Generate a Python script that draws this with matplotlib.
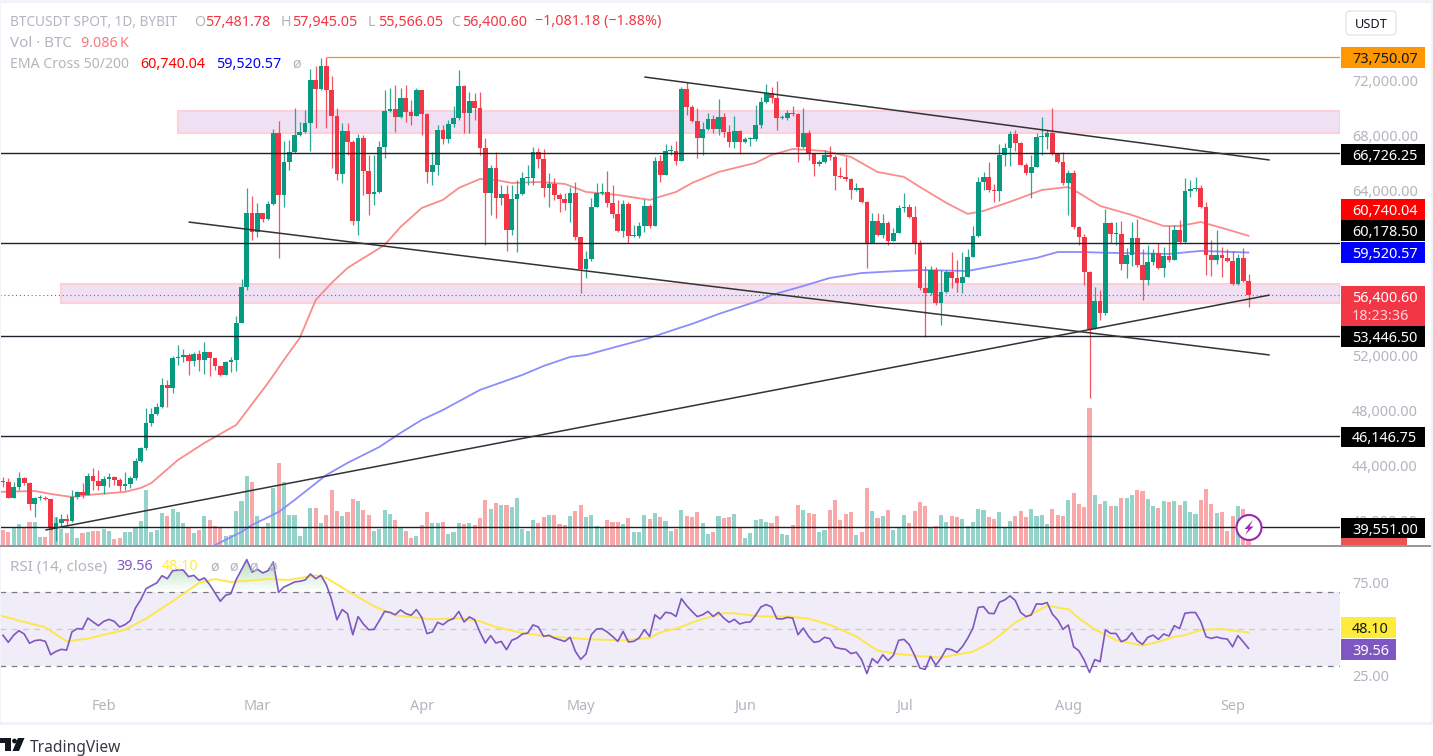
import numpy as np
import matplotlib
matplotlib.use("Agg")
import matplotlib.pyplot as plt
from matplotlib.patches import Rectangle, Circle, FancyBboxPatch, Polygon
from matplotlib.path import Path
from matplotlib.ticker import FuncFormatter

plt.rcParams['font.family'] = ['Noto Sans', 'DejaVu Sans']

# daily candles, thousands of USDT, first one is 13 Jan 2024
first_open = 42.85
closes = [
    42.83,41.67,42.47,43.12,42.76,41.23,41.67,41.67,41.60,39.49,
    39.85,40.14,40.00,41.74,42.11,41.89,43.27,42.91,42.54,43.05,
    43.20,42.98,42.54,42.69,43.12,44.36,45.31,47.13,47.78,48.29,
    49.89,49.67,51.85,51.93,52.07,51.63,52.15,51.71,52.29,51.85,
    51.27,50.62,51.56,51.71,54.40,57.02,62.40,61.02,62.40,61.96,
    63.05,68.22,63.71,66.11,66.84,68.07,68.29,68.94,72.07,71.42,
    73.09,71.35,69.45,65.24,68.36,67.56,61.82,67.85,65.45,63.78,
    63.93,67.20,69.82,69.96,69.38,70.76,69.74,69.45,71.35,69.60,
    65.38,65.89,68.44,67.78,68.87,69.31,71.64,69.67,70.54,70.04,
    67.13,63.85,65.67,63.49,63.78,61.16,63.42,63.78,64.95,64.95,
    66.84,66.33,64.22,64.51,63.71,63.42,63.13,63.85,60.66,58.33,
    59.05,62.84,63.85,63.93,63.13,62.33,61.09,63.05,60.73,60.73,
    61.45,62.91,61.45,66.18,65.16,66.91,66.91,66.18,71.42,70.11,
    69.09,67.85,68.51,69.24,68.51,69.38,68.29,67.56,68.36,67.56,
    67.78,67.78,68.80,70.47,71.13,70.76,69.31,69.31,69.67,69.60,
    67.20,68.22,66.69,65.96,66.11,66.62,66.47,65.09,65.02,64.87,
    64.07,64.22,63.20,60.22,61.82,60.80,61.67,60.36,60.95,62.76,
    62.84,62.11,60.22,56.95,56.58,58.25,55.85,56.65,58.11,57.67,
    57.31,57.75,59.20,60.73,64.65,65.02,64.07,64.00,66.62,67.13,
    68.15,67.49,65.89,65.31,65.75,67.93,67.93,68.22,66.69,66.11,
    64.58,65.31,61.38,60.66,58.11,53.96,56.00,55.13,61.67,60.88,
    60.88,58.69,59.34,60.58,58.62,57.53,58.84,59.49,58.40,59.27,
    58.98,61.16,60.29,64.00,64.15,64.22,62.84,59.34,58.98,59.34,
    59.13,58.91,57.24,59.13,57.48,56.40,
]
highs = [
    43.20,43.12,42.83,43.56,43.20,42.83,41.74,41.89,41.82,41.60,
    40.29,40.51,40.51,42.25,42.18,42.76,43.49,43.85,43.71,43.27,
    43.49,43.27,43.12,43.56,43.27,44.58,45.38,48.22,48.22,48.58,
    50.40,50.25,52.00,52.80,52.51,52.22,52.29,52.44,53.02,52.29,
    51.85,51.27,51.63,51.93,54.91,57.60,64.22,63.64,63.13,62.40,
    63.27,68.51,69.09,67.64,67.71,70.04,69.02,69.89,72.87,73.09,
    73.67,73.75,72.36,70.04,68.94,68.94,67.71,68.15,68.07,66.62,
    66.62,67.64,71.35,71.49,71.71,71.49,71.71,70.62,71.49,71.35,
    69.67,66.84,68.80,68.80,69.16,70.18,72.80,71.71,71.20,71.13,
    71.20,67.85,65.89,66.84,64.43,64.43,64.43,64.80,65.38,65.89,
    67.20,67.13,67.05,65.31,64.95,63.85,63.85,64.29,64.65,60.66,
    59.63,63.49,64.58,64.58,65.45,64.43,63.35,63.35,63.20,61.53,
    61.74,63.42,63.05,66.47,66.62,67.42,67.35,67.64,71.56,71.93,
    70.25,70.04,69.02,69.67,69.53,70.69,69.67,68.80,69.45,68.44,
    67.93,67.93,70.25,70.84,71.78,71.56,71.99,69.53,69.89,70.18,
    69.67,70.04,68.44,66.76,66.25,66.98,67.27,66.62,65.75,66.47,
    64.95,64.58,64.29,63.27,62.40,62.40,62.33,61.82,61.31,62.98,
    63.85,63.05,62.91,60.44,58.54,58.54,58.47,58.25,58.25,59.56,
    58.98,59.56,59.78,61.45,65.02,65.38,66.11,64.51,67.42,67.49,
    68.36,68.44,67.56,66.04,66.62,68.22,69.38,68.44,70.04,66.76,
    66.84,65.53,65.53,61.45,60.88,58.18,57.02,56.80,62.69,61.74,
    61.74,61.82,59.85,61.74,61.96,59.78,60.07,59.78,60.22,59.93,
    61.45,61.53,61.89,64.95,64.80,65.02,64.43,63.20,60.44,61.16,
    59.93,59.78,59.63,59.42,59.85,57.95,
]
lows = [
    42.47,41.67,41.67,42.25,42.62,40.80,40.29,41.52,41.52,39.34,
    38.54,39.56,39.63,39.93,41.60,41.67,41.89,42.25,42.25,41.96,
    42.47,42.62,42.18,42.25,42.40,42.98,44.29,45.16,46.91,47.71,
    48.22,48.29,49.31,51.34,51.56,50.62,51.27,50.91,50.69,50.54,
    50.98,50.54,50.62,50.84,50.91,54.40,56.80,60.44,60.66,61.74,
    61.89,62.98,59.13,62.84,65.53,66.76,68.00,68.22,66.91,68.58,
    71.35,68.58,65.67,64.80,64.58,66.62,61.53,60.80,63.71,62.25,
    62.98,63.85,66.40,69.74,68.29,69.31,69.02,68.80,69.45,68.07,
    64.58,64.43,65.16,67.42,67.49,68.65,69.16,68.22,68.22,69.16,
    66.62,60.07,62.25,62.04,62.98,59.63,60.80,59.56,63.71,64.43,
    64.43,65.67,63.56,62.84,63.35,62.47,62.62,61.74,60.44,56.58,
    57.67,58.91,62.84,63.71,62.84,62.04,61.02,60.66,60.22,60.66,
    60.58,61.02,61.31,61.45,64.65,65.16,66.62,65.89,66.18,69.53,
    69.02,66.40,66.62,68.44,68.22,68.07,67.93,67.20,67.13,66.69,
    67.49,67.27,67.64,68.58,70.40,70.40,68.44,69.24,69.16,69.45,
    66.11,67.13,66.25,65.09,65.82,66.04,66.25,64.07,64.95,64.73,
    63.42,64.00,63.13,58.40,60.22,60.73,60.58,60.07,60.36,60.95,
    62.47,62.04,59.42,56.80,53.38,56.43,55.71,54.25,56.58,56.95,
    56.65,56.58,57.75,59.20,60.66,64.07,63.93,63.20,63.27,65.82,
    65.82,66.91,65.89,65.16,63.49,65.75,66.62,67.05,66.62,66.04,
    64.43,62.25,61.24,60.07,57.16,48.94,53.96,54.62,55.00,60.22,
    60.07,58.25,57.67,58.54,58.47,56.07,57.16,58.62,58.33,57.75,
    58.84,58.98,60.15,60.22,63.56,64.00,62.76,57.89,57.82,58.69,
    57.75,58.84,57.16,57.16,57.38,55.57,
]
# volume, thousands of BTC
volumes = [
    37.5,32.5,45,52.5,42.5,57.5,57.5,20,20,45,
    70,40,30,45,17.5,30,32.5,35,35,40,
    35,15,17.5,32.5,32.5,42.5,60,137.5,32.5,37.5,
    80,72.5,90,82.5,55,42.5,30,37.5,72.5,62.5,
    47.5,45,22.5,25,85,110,172.5,157.5,72.5,42.5,
    55,142.5,205,157.5,75,75,22.5,45,92.5,92.5,
    55,75,137.5,85,72.5,82.5,115,110,87.5,75,
    35,40,87.5,77.5,62.5,42.5,35,17.5,22.5,50,
    82.5,55,55,57.5,27.5,32.5,55,52.5,55,50,
    67.5,112.5,90,105,100,100,95,117.5,40,35,
    62.5,55,70,75,75,52.5,50,72.5,85,100,
    70,75,47.5,45,62.5,57.5,57.5,52.5,67.5,32.5,
    32.5,75,65,80,70,60,35,40,87.5,72.5,
    70,82.5,55,27.5,32.5,72.5,67.5,70,77.5,42.5,
    17.5,30,62.5,65,57.5,55,72.5,27.5,25,50,
    100,87.5,80,77.5,32.5,37.5,87.5,112.5,62.5,77.5,
    82.5,25,32.5,142.5,85,67.5,72.5,87.5,37.5,42.5,
    75,55,85,107.5,97.5,42.5,47.5,75,57.5,72.5,
    70,65,47.5,57.5,90,87.5,70,65,82.5,42.5,
    60,72.5,85,70,90,72.5,75,52.5,90,75,
    72.5,112.5,130,102.5,95,342.5,125,102.5,110,97.5,
    97.5,117.5,117.5,125,137.5,135,115,97.5,92.5,110,
    107.5,110,100,110,82.5,77.5,112.5,140,102.5,80,
    82.5,35,72.5,97.5,90,9.086,
]
rsi_values = [
    46.6,42.8,46.6,49.1,47.3,42.3,43.7,44.1,43.3,36.1,
    37.9,39.0,38.6,48.4,50.2,50.0,55.9,53.8,51.8,54.1,
    55.2,54.1,51.1,52.3,54.5,61.4,65.9,71.8,73.4,74.9,
    78.8,77.2,81.5,81.9,81.9,78.3,79.0,76.3,77.6,74.0,
    69.5,65.0,68.2,69.1,76.7,82.1,87.5,80.8,82.3,80.3,
    81.5,86.2,69.8,72.7,74.0,75.4,75.8,76.5,79.7,77.2,
    79.0,74.0,65.9,55.0,60.5,58.3,46.9,56.7,52.7,49.6,
    49.8,54.5,59.5,59.0,57.7,60.3,58.3,57.4,60.5,56.3,
    47.5,48.4,53.6,52.3,54.5,55.6,59.5,53.8,56.5,55.0,
    48.2,42.4,46.4,42.4,43.3,38.8,43.9,45.1,47.3,47.8,
    52.2,51.1,46.0,46.6,45.1,44.2,43.3,45.5,37.9,33.6,
    36.5,46.9,50.0,50.2,48.4,46.0,43.3,48.7,43.0,43.3,
    45.1,49.6,46.0,57.7,55.4,59.0,58.6,56.8,66.4,62.6,
    59.5,56.7,57.7,59.5,56.8,59.0,55.9,53.6,55.2,52.7,
    53.6,53.8,57.4,61.9,63.2,61.9,55.6,55.4,56.3,55.9,
    46.9,50.5,46.0,42.8,43.3,45.5,44.8,40.1,39.4,39.0,
    36.7,37.4,33.4,25.9,34.0,31.6,36.1,32.9,35.8,43.9,
    44.4,41.5,35.8,28.9,28.2,35.2,30.4,34.3,39.4,38.8,
    37.3,40.4,44.9,50.4,61.6,62.1,58.5,58.3,64.5,65.7,
    67.9,65.4,59.0,56.7,57.6,63.6,63.4,64.3,58.0,54.9,
    49.8,52.2,40.4,38.2,33.2,26.5,33.5,32.3,49.5,47.6,
    47.6,43.1,44.4,48.0,43.7,41.7,45.5,46.7,44.4,47.3,
    46.2,51.8,50.2,58.5,58.9,58.9,54.0,45.8,44.9,45.7,
    44.9,44.6,40.4,46.4,43.1,39.56,
]

# moving averages read at a handful of days (day number from first candle)
ema50_days = [-1,6,9,13,16,23,26,28,33,38,44,48,50,53,56,59,62,65,72,75,
              79,83,86,90,93,96,101,106,110,116,122,127,130,135,142,145,149,155,160,165,
              170,173,178,182,185,191,196,201,203,207,213,219,222,226,230,235]
ema50 = [42.11,42.18,41.96,41.74,41.89,42.11,42.40,42.76,44.43,45.67,
         46.98,49.02,50.03,51.71,53.31,56.07,57.31,58.40,60.07,61.38,
         62.76,63.35,64.22,64.87,64.80,64.58,64.65,64.51,63.93,63.71,
         63.35,63.93,64.58,65.38,66.04,66.62,67.05,66.91,66.47,65.38,
         65.02,64.29,63.13,62.33,62.55,63.35,64.07,64.29,63.85,62.91,
         62.25,61.45,61.45,61.74,61.31,60.74]
ema200_days = [40,45,47,52,55,61,65,71,75,79,83,90,98,102,107,110,117,122,127,130,
               135,143,145,151,156,162,169,173,182,188,195,199,203,210,220,226,235]
ema200 = [38.25,39.20,39.71,40.65,41.52,43.34,44.22,45.38,46.40,47.35,
          48.07,49.53,50.62,51.27,51.93,52.07,52.80,53.31,53.96,54.33,
          55.05,56.07,56.43,57.09,57.67,58.03,58.18,58.25,58.18,58.62,
          59.13,59.56,59.56,59.49,59.42,59.64,59.52]
rsi_ma_days = [-1,3,8,12,16,23,27,32,37,40,43,50,54,59,61,66,70,74,79,81,86,90,
               93,98,104,111,117,122,124,127,131,136,138,143,148,152,156,161,165,169,
               173,177,183,186,189,191,197,201,203,206,210,215,218,221,223,226,230,235]
rsi_ma = [57.7,54.5,50.9,43.3,44.8,49.6,55.6,65.0,74.9,77.0,75.4,77.0,76.5,79.0,77.6,68.9,62.3,57.4,55.9,55.2,55.9,54.1,
          51.1,47.8,45.7,44.4,43.9,45.1,48.2,50.2,54.5,58.6,58.5,56.8,56.8,55.6,52.3,46.0,38.3,36.5,
          35.3,34.6,37.7,42.2,48.6,53.6,62.5,60.7,55.8,49.8,44.0,41.0,43.1,45.8,46.7,49.5,50.0,48.10]

# hand drawn levels, zones and trend lines
level_prices = [66.72625, 60.1785, 53.4465, 46.14675, 39.551]
ath_price = 73.75007
last_price = 56.4006
zone_top = (33.1, 68.22, 69.82)
zone_bottom = (10.9, 55.85, 57.24)
trend_days = [(35, 239), (8, 239), (121, 239)]
trend_prices = [(61.74, 52.07), (39.34, 56.43), (72.29, 66.25)]

month_days = [19, 48, 79, 109, 140, 170, 201, 232]
month_names = ['Feb', 'Mar', 'Apr', 'May', 'Jun', 'Jul', 'Aug', 'Sep']
price_ticks = [40, 44, 48, 52, 64, 68, 72]
rsi_ticks = [25, 75]

GREEN = '#089981'
RED = '#F23645'
GREY = '#B2B5BE'
LIGHT_GREEN = '#94D3CA'
LIGHT_RED = '#F9A8A9'
PURPLE = '#7E57C2'

W, H = 1433, 756
fig = plt.figure(figsize=(W / 100, H / 100), dpi=100, facecolor='white')


def pane(left, top, right, bottom):
    return fig.add_axes([left / W, (H - bottom) / H, (right - left) / W, (bottom - top) / H])


# day -> pixel is x = 3 + 5.3 * day
xlim = (-3 / 5.3, (1340 - 3) / 5.3)
days = np.arange(len(closes))
closes = np.array(closes)
opens = np.r_[first_open, closes[:-1]]
highs = np.array(highs)
lows = np.array(lows)
up = closes >= opens

ax = pane(0, 3, 1340, 545)
ax.set_xlim(xlim)
ax.set_ylim(38.25, 77.67)
for s in ax.spines.values():
    s.set_visible(False)
ax.set_xticks([])
ax.yaxis.tick_right()
ax.set_yticks(price_ticks)
ax.yaxis.set_major_formatter(FuncFormatter(lambda v, p: f'{v * 1000:,.2f}'))
ax.tick_params(axis='y', length=0, pad=8.6, labelsize=10.4, labelcolor=GREY)

for start, bot, top in (zone_top, zone_bottom):
    ax.add_patch(Rectangle((start, bot), xlim[1] - start, top - bot, facecolor='#EFE0F3',
                           edgecolor='#FDD0D6', linewidth=1.5, zorder=1))

# volume sits on its own scale at the bottom of the price pane
vol = fig.add_axes(ax.get_position(), sharex=ax, zorder=ax.get_zorder() - 1)
vol.set_ylim(0, 542 * 2.5)
vol.axis('off')
ax.patch.set_visible(False)
vol.bar(days, volumes, width=0.78, color=[LIGHT_GREEN if u else LIGHT_RED for u in up], linewidth=0)

ax.plot(ema50_days, ema50, color='#FA8C8C', lw=1.3, zorder=3)
ax.plot(ema200_days, ema200, color='#8C8CFB', lw=1.3, zorder=3)

wick_cols = [GREEN if u else RED for u in up]
ax.vlines(days, lows, highs, colors=wick_cols, lw=0.9, alpha=0.85, zorder=4)
ax.bar(days, np.maximum(np.abs(closes - opens), 0.09), bottom=np.minimum(closes, opens),
       width=0.88, color=wick_cols, linewidth=0, zorder=4)

ax.axhline(last_price, color=RED, lw=0.8, ls=(0, (1, 2.5)), zorder=5)
ax.hlines(level_prices, xlim[0], xlim[1], color='#1E222D', lw=1.0, zorder=6)
ax.hlines(ath_price, 61, xlim[1], color='#F7931E', lw=0.9, zorder=6)
for d, p in zip(trend_days, trend_prices):
    ax.plot(d, p, color='#333333', lw=1.1, zorder=6, solid_capstyle='butt')

# RSI pane
rsi_ax = pane(0, 548, 1340, 722)
rsi_ax.set_xlim(xlim)
rsi_ax.set_ylim(-0.27, 93.78)
for s in rsi_ax.spines.values():
    s.set_visible(False)
rsi_ax.axhspan(30, 70, color='#F0ECF8', lw=0, zorder=1)
rsi_ax.axhline(70, color='#787B86', lw=0.9, ls=(0, (4.5, 4.5)), zorder=2)
rsi_ax.axhline(30, color='#787B86', lw=0.9, ls=(0, (4.5, 4.5)), zorder=2)
rsi_ax.axhline(50, color='#C9CBD2', lw=0.9, ls=(0, (4.5, 4.5)), zorder=2)

rsi_values = np.array(rsi_values)
over = rsi_ax.fill_between(days, 70, rsi_values, where=rsi_values > 70, interpolate=True, color='none')
shade = np.zeros((64, 2, 4))
shade[..., 0] = 76 / 255
shade[..., 1] = 175 / 255
shade[..., 2] = 80 / 255
shade[..., 3] = np.linspace(0.42, 0, 64)[:, None]
im = rsi_ax.imshow(shade, extent=(xlim[0], xlim[1], 70, 88), origin='upper', aspect='auto', zorder=2)
im.set_clip_path(Path.make_compound_path(*over.get_paths()), rsi_ax.transData)
rsi_ax.set_xlim(xlim)
rsi_ax.set_ylim(-0.27, 93.78)

rsi_ax.plot(rsi_ma_days, rsi_ma, color='#FDE74C', lw=1.4, zorder=3)
rsi_ax.plot(days, rsi_values, color=PURPLE, lw=1.2, zorder=4)

rsi_ax.yaxis.tick_right()
rsi_ax.set_yticks(rsi_ticks)
rsi_ax.yaxis.set_major_formatter(FuncFormatter(lambda v, p: f'{v:.2f}'))
rsi_ax.tick_params(axis='y', length=0, pad=8.6, labelsize=10.4, labelcolor=GREY)
rsi_ax.set_xticks(month_days)
rsi_ax.set_xticklabels(month_names, fontweight='medium')
rsi_ax.tick_params(axis='x', length=0, pad=-16.5, labelsize=10.4, labelcolor=GREY)

# everything that is page furniture goes on a pixel overlay
ov = fig.add_axes([0, 0, 1, 1], zorder=10)
ov.set_xlim(0, W)
ov.set_ylim(H, 0)
ov.axis('off')

for r in [(0, 0, W, 2.5), (0, 0, 1.2, 724), (0, 722, W, 2.5), (1431, 0, 2, 724)]:
    ov.add_patch(Rectangle(r[:2], r[2], r[3], color='#F0F3FA', lw=0))
ov.add_patch(Rectangle((0, 544.5), 1431, 2, color='#9598A1', lw=0))

# price scale labels
boxes = [
    (47, 21, 84, '#FF9800', '73,750.07', '#131722'),
    (144, 21, 84, '#000000', '66,726.25', 'white'),
    (199, 21, 84, '#FF0000', '60,740.04', 'white'),
    (220, 21, 84, '#000000', '60,178.50', 'white'),
    (242, 21, 84, '#0000FF', '59,520.57', 'white'),
    (326, 21, 84, '#000000', '53,446.50', 'white'),
    (427, 20, 84, '#000000', '46,146.75', 'white'),
    (518, 20, 84, '#000000', '39,551.00', 'white'),
    (617, 21, 55, '#FFEB3B', '48.10', '#131722'),
    (639, 21, 55, PURPLE, '39.56', 'white'),
]
ov.add_patch(Rectangle((1341, 538), 66, 7, color='#EF5350', lw=0))
for top, hgt, wid, col, txt, tcol in boxes:
    ov.add_patch(Rectangle((1341, top), wid, hgt, color=col, lw=0))
    ov.text(1352, top + hgt / 2, txt, color=tcol, fontsize=10.4, va='center_baseline', ha='left')
ov.add_patch(Rectangle((1341, 286), 84, 40, color=RED, lw=0))
ov.text(1352, 296, '56,400.60', color='white', fontsize=10.4, va='center_baseline')
ov.text(1352, 315, '18:23:36', color='#FBD5D8', fontsize=10.4, va='center_baseline')

ov.add_patch(FancyBboxPatch((1346, 11), 50, 24, boxstyle='round,pad=0,rounding_size=4',
                            facecolor='white', edgecolor='#E0E3EB', lw=0.9))
ov.text(1371, 23, 'USDT', color='#131722', fontsize=9.2, ha='center', va='center_baseline')

# legend rows, x positions as they sit in the header
FS = 10.3
header = [
    (10, 20, 'BTCUSDT SPOT, 1D, BYBIT', GREY, 9.8),
    (194, 20, 'O', GREY, FS), (205, 20, '57,481.78', RED, FS),
    (281, 20, 'H', GREY, FS), (292, 20, '57,945.05', RED, FS),
    (368, 20, 'L', GREY, FS), (378, 20, '55,566.05', RED, FS),
    (451, 20, 'C', GREY, FS), (462, 20, '56,400.60', RED, FS),
    (535, 20, '\u22121,081.18 (\u22121.88%)', RED, FS),
    (10, 41.5, 'Vol \u00b7 BTC', GREY, 10.9), (81, 41.5, '9.086\u2009K', '#F7787E', FS),
    (10, 62.5, 'EMA Cross 50/200', GREY, 10.1), (140, 62.5, '60,740.04', '#FF0000', FS),
    (216, 62.5, '59,520.57', '#0000FF', FS), (292, 62.5, '\u00f8', GREY, FS),
    (10, 565, 'RSI (14, close)', GREY, 10.9), (116, 565, '39.56', PURPLE, FS),
    (162, 565, '48.10', '#FFEB3B', FS), (210, 565, '\u00f8', GREY, FS), (229, 565, '\u00f8', GREY, FS),
    (249, 565, '\u00f8', GREY, FS), (268, 565, '\u00f8', GREY, FS),
]
for x, y, txt, col, size in header:
    ov.text(x, y, txt, color=col, fontsize=size, va='center_baseline')

# lightning badge next to the last candle
ov.add_patch(Circle((1249, 527.5), 12.5, facecolor='white', edgecolor='#9C27B0', lw=1.5))
ov.add_patch(Polygon([(1253, 520), (1244.5, 529), (1248.5, 529), (1245, 535), (1253.5, 526.5), (1249.5, 526.5)],
                     color='#9C27B0', lw=0))

# TradingView mark
ov.add_patch(Polygon([(0, 738), (11, 738), (11, 751), (5, 751), (5, 743), (0, 743)], color='#131722', lw=0))
ov.add_patch(Circle((14.5, 741), 2.4, color='#131722', lw=0))
ov.add_patch(Polygon([(18, 738), (24.5, 738), (19, 751), (12.5, 751)], color='#131722', lw=0))
ov.text(30, 745.5, 'TradingView', color='#131722', fontsize=11.2, va='center_baseline', alpha=0.85)

fig.savefig('out.png', dpi=100)
